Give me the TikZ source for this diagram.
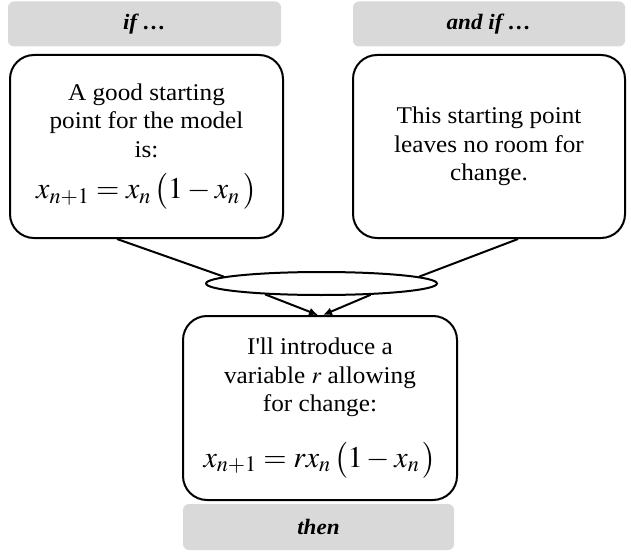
\documentclass[tikz,border=0pt]{standalone}
\usepackage{mathptmx}
\usepackage{fontspec}
\setmainfont[FakeStretch=1.05]{Liberation Serif}
\usetikzlibrary{shapes.geometric,arrows.meta,calc}
\definecolor{labgray}{HTML}{D9D9D9}
\begin{document}
\begin{tikzpicture}[x=1pt,y=-1pt,
  lab/.style={fill=labgray, rounded corners=6pt, minimum height=45pt, inner sep=0pt,
    font=\fontsize{22}{26}\selectfont\bfseries\itshape},
  card/.style={draw, line width=2pt, rounded corners=24pt, fill=white, align=center,
    inner sep=0pt, font=\fontsize{24}{28.5}\selectfont},
  conn/.style={line width=2pt},
  arr/.style={line width=2pt, -{Latex[length=9pt,width=8pt]}}]
\useasboundingbox (0,0) rectangle (631,553);
\newcommand{\bigeq}[1]{{\fontsize{30}{30}\selectfont$#1$}}
% labels
\node[lab, minimum width=273pt] (ifl) at (144.5,24) {if …};
\node[lab, minimum width=272pt] (andifl) at (489,24) {and if …};
\node[lab, minimum width=271pt, minimum height=46pt] (thenl) at (318.5,527) {then};
% cards
\node[card, minimum width=273pt, minimum height=183pt] (L) at (146.5,146.5)
  {A good starting\\point for the model\\is:\\[13pt]\bigeq{x_{n+1}=x_n\,\bigl(1-x_n\,\bigr)}};
\node[card, minimum width=272pt, minimum height=183pt] (R) at (489,146.5)
  {This starting point\\leaves no room for\\change.};
\node[card, minimum width=274pt, minimum height=184pt] (B) at (320,408)
  {I\textquotesingle ll introduce a\\variable $r$ allowing\\for change:\\[24pt]\bigeq{x_{n+1}=rx_n\,\bigl(1-x_n\,\bigr)}};
% ellipse
\node[draw, ellipse, line width=2pt, fill=white, minimum width=231pt, minimum height=23pt, inner sep=0pt] (E) at (321.5,283.5) {};
% connectors
\coordinate (la) at ($(L.south)+(-29.5,0)$);
\coordinate (ra) at ($(R.south)+(29,0)$);
\coordinate (bl) at ($(B.north)+(-2,0)$);
\coordinate (br) at ($(B.north)+(3,0)$);
\draw[conn] (la) -- (E.176);
\draw[conn] (ra) -- (E.4);
\draw[arr] (E.191) -- (bl);
\draw[arr] (E.347) -- (br);
\end{tikzpicture}
\end{document}
